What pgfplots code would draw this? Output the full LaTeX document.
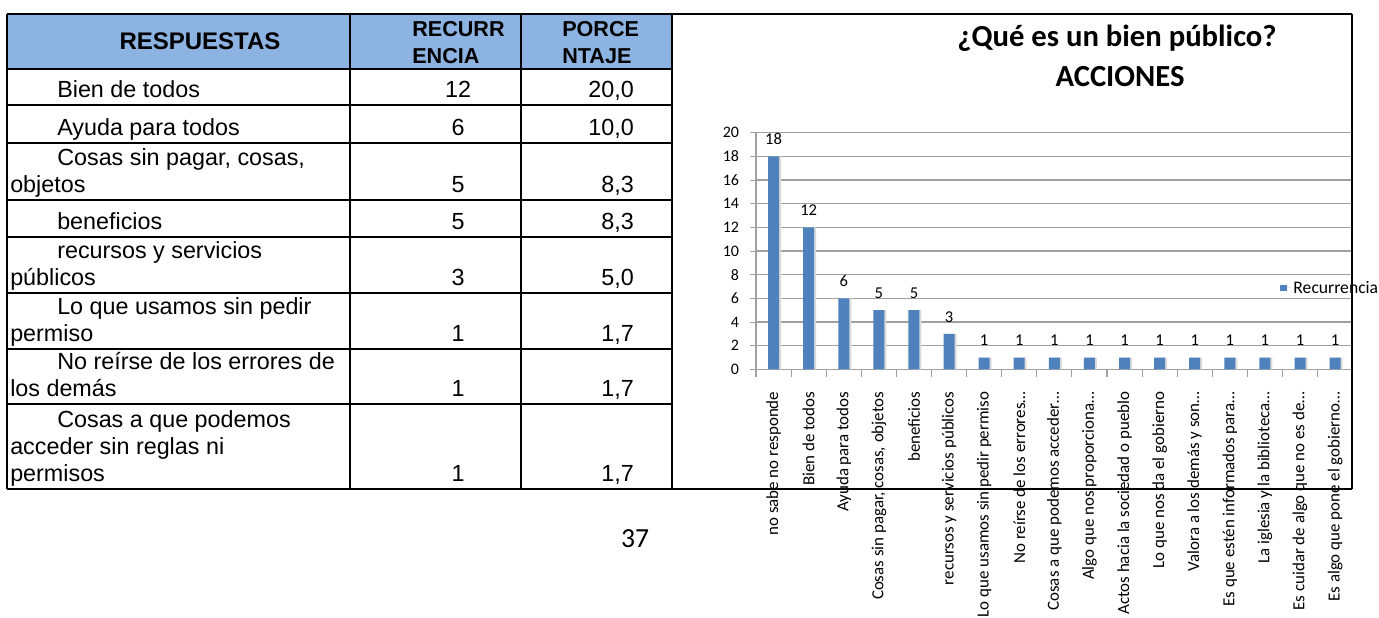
\documentclass[border=0pt]{standalone}
\usepackage{pgfplots}
\pgfplotsset{compat=1.18}
\usepackage{fontspec}
\setmainfont{Liberation Sans}
\newfontfamily\calibri{Carlito}
\definecolor{barblue}{HTML}{4F81BD}
\definecolor{hdrblue}{HTML}{8DB3E2}
\definecolor{gridgray}{HTML}{A0A0A0}
\begin{document}
\begin{tikzpicture}[x=0.75pt,y=0.75pt,
  tb/.style={font=\fontsize{17.5}{20}\selectfont, anchor=base west, inner sep=0pt},
  tn/.style={font=\fontsize{17.5}{20}\selectfont, anchor=base, inner sep=0pt},
  tp/.style={font=\fontsize{17.5}{20}\selectfont, anchor=base east, inner sep=0pt},
  th/.style={font=\bfseries\fontsize{16.2}{18}\selectfont, anchor=base west, inner sep=0pt}]
\useasboundingbox (0,0) rectangle (1379,618);
\fill[hdrblue] (7,604) rectangle (672,549);
\begin{axis}[
  at={(567pt,186.45pt)}, anchor=south west,
  scale only axis, width=447.5pt, height=177.5pt,
  xmin=0.5, xmax=17.5, ymin=0, ymax=20,
  ytick={0,2,...,20},
  xtick={1,...,17},
  xticklabels={no sabe no responde, Bien de todos, Ayuda para todos, {Cosas sin pagar, cosas,  objetos}, beneficios, recursos y servicios públicos, Lo que usamos sin pedir permiso, No reírse de los errores…, Cosas a que podemos acceder…, Algo que nos proporciona…, Actos hacia la sociedad o pueblo, Lo que nos da el gobierno, Valora a los demás y son…, Es que estén informados para…, La iglesia y la biblioteca…, Es cuidar de algo que no es de…, Es algo que pone el gobierno…},
  minor xtick={0.5,1.5,...,17.5},
  ybar, bar width=8.25pt,
  ymajorgrids, grid style={gridgray, line width=1pt},
  axis x line*=bottom, axis y line*=left,
  axis line style={gridgray, line width=1pt, -},
  tick align=outside, major tick length=4.5pt, minor tick length=6pt,
  tick style={gridgray, line width=0.8pt},
  major x tick style={draw=none},
  /pgf/number format/assume math mode=true,
  xticklabel style={rotate=90, anchor=east, font=\calibri\fontsize{12.7}{14}\selectfont, inner sep=0pt},
  xticklabel shift=12pt,
  yticklabel style={font=\calibri\fontsize{12}{13}\selectfont, inner sep=0pt},
  yticklabel shift=8pt,
  clip=false,
  legend style={at={(rel axis cs:0.878,0.344)}, anchor=west, draw=none, fill=none, inner sep=0pt, font=\calibri\fontsize{13.2}{14}\selectfont},
  legend image code/.code={\fill[barblue] (0pt,-2.6pt) rectangle (5pt,2.6pt); \path (0pt,0pt) -- (8pt,0pt);},
]
\addplot[fill=black!14, draw=none, bar shift=1.5pt, forget plot] coordinates {(1,18) (2,12) (3,6) (4,5) (5,5) (6,3) (7,1) (8,1) (9,1) (10,1) (11,1) (12,1) (13,1) (14,1) (15,1) (16,1) (17,1)};
\addplot[fill=barblue, draw=none, nodes near coords,
  nodes near coords style={font=\calibri\fontsize{12.4}{13}\selectfont, anchor=south, inner sep=0pt, yshift=8.5pt, text=black}] coordinates {(1,18) (2,12) (3,6) (4,5) (5,5) (6,3) (7,1) (8,1) (9,1) (10,1) (11,1) (12,1) (13,1) (14,1) (15,1) (16,1) (17,1)};
\addlegendentry{Recurrencia}
\end{axis}
% chart title
\node[font=\calibri\bfseries\fontsize{23}{26}\selectfont, anchor=base, inner sep=0pt] at (1117,571) {¿Qué es un bien público?};
\node[font=\calibri\bfseries\fontsize{23}{26}\selectfont, anchor=base, inner sep=0pt] at (1120,531) {ACCIONES};
% page number
\node[font=\calibri\fontsize{20.7}{22}\selectfont, anchor=base, inner sep=0pt] at (635,70) {37};
% table header
\node[font=\bfseries\fontsize{18}{20}\selectfont, anchor=base, inner sep=0pt] at (200,568) {RESPUESTAS};
\node[th] at (412,581) {RECURR};
\node[th] at (412,554) {ENCIA};
\node[th] at (562,581) {PORCE};
\node[th] at (562,554) {NTAJE};
% table body
\node[tb] at (57,520) {Bien de todos}; \node[tn] at (458,520) {12}; \node[tp] at (634,520) {20,0};
\node[tb] at (57,482) {Ayuda para todos}; \node[tn] at (458,482) {6}; \node[tp] at (634,482) {10,0};
\node[tb] at (57,452) {Cosas sin pagar, cosas,}; \node[tb] at (10,425) {objetos}; \node[tn] at (458,425) {5}; \node[tp] at (634,425) {8,3};
\node[tb] at (57,388) {beneficios}; \node[tn] at (458,388) {5}; \node[tp] at (634,388) {8,3};
\node[tb] at (57,359) {recursos y servicios}; \node[tb] at (10,332) {públicos}; \node[tn] at (458,332) {3}; \node[tp] at (634,332) {5,0};
\node[tb] at (57,303) {Lo que usamos sin pedir}; \node[tb] at (10,276) {permiso}; \node[tn] at (458,276) {1}; \node[tp] at (634,276) {1,7};
\node[tb] at (57,248) {No reírse de los errores de}; \node[tb] at (10,221) {los demás}; \node[tn] at (458,221) {1}; \node[tp] at (634,221) {1,7};
\node[tb] at (57,190) {Cosas a que podemos}; \node[tb] at (10,163) {acceder sin reglas ni}; \node[tb] at (10,136) {permisos}; \node[tn] at (458,136) {1}; \node[tp] at (634,136) {1,7};
% table and frame lines
\begin{scope}[line width=1.5pt, black]
\foreach \yy in {549,513,475,418,381,325,269,214} {\draw (7,\yy) -- (672,\yy);}
\draw (7,604) -- (1352,604);
\draw (7,129) -- (1352,129);
\foreach \xx in {7,350,521,672,1352} {\draw (\xx,604) -- (\xx,129);}
\end{scope}
\end{tikzpicture}
\end{document}
